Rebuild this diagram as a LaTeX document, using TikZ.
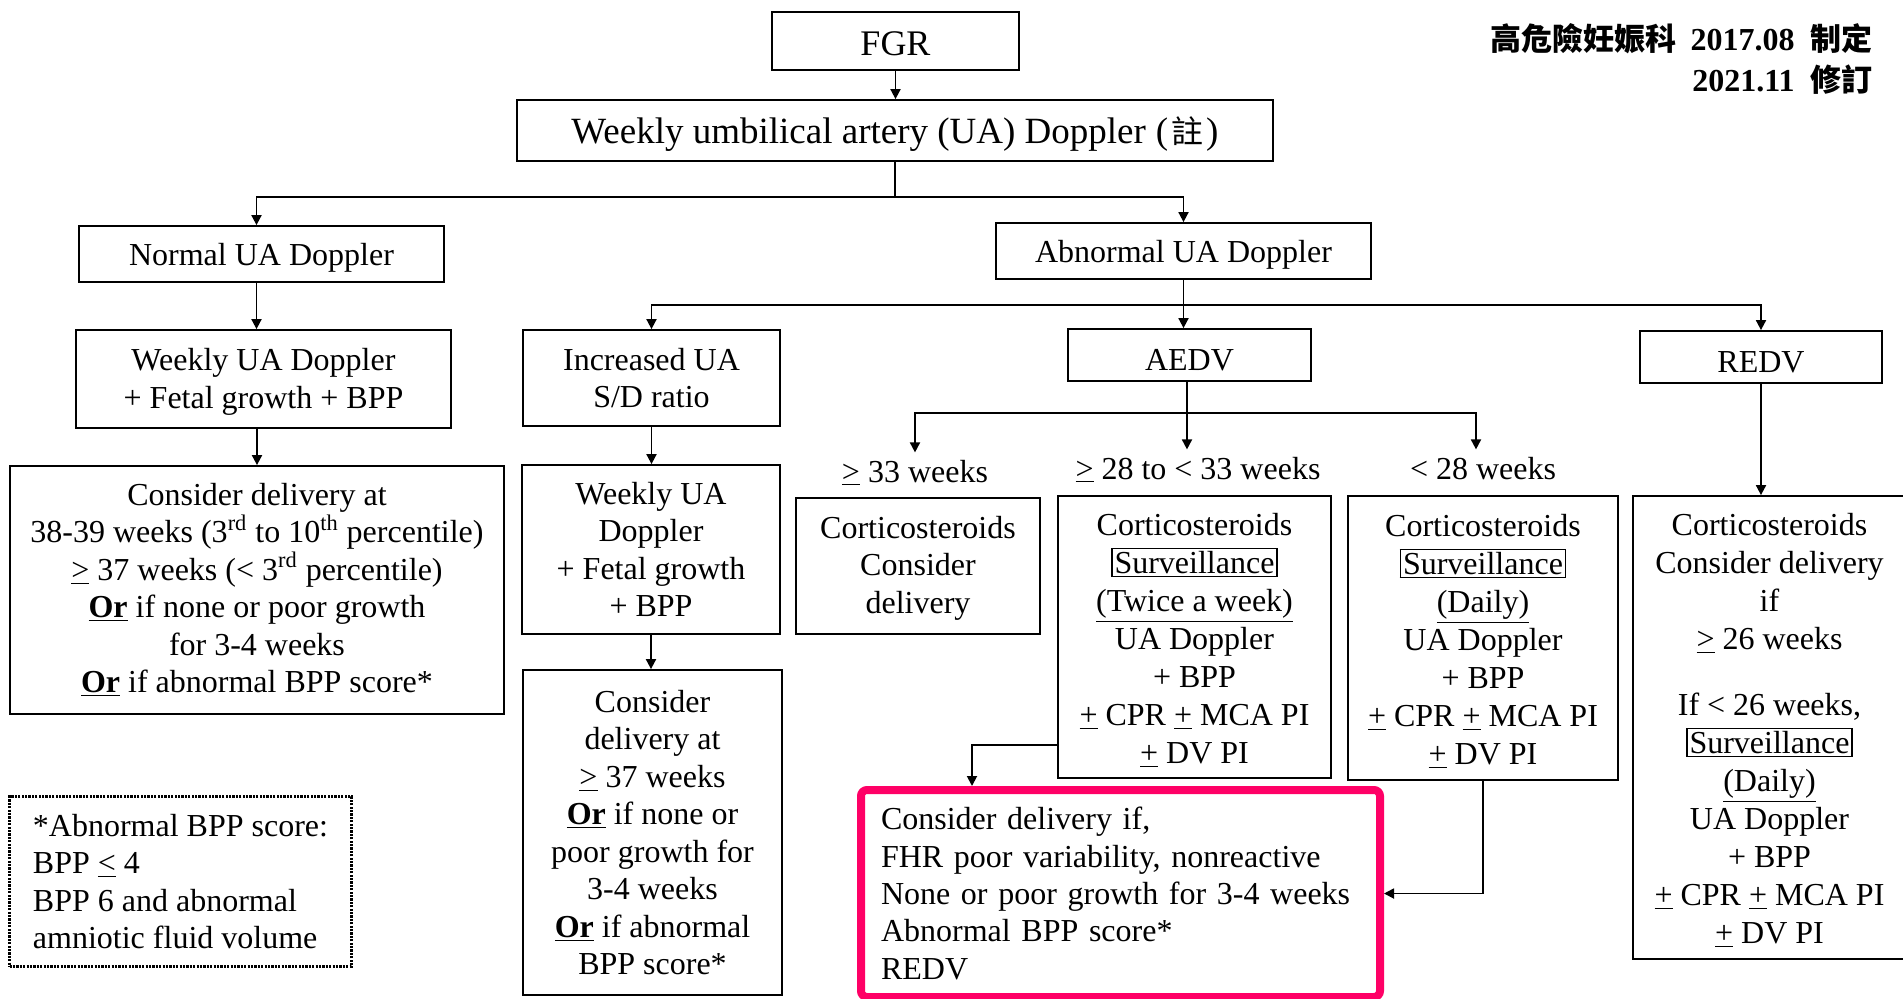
\documentclass[tikz,border=0pt]{standalone}
\usepackage{fontspec}
\setmainfont{Liberation Serif}
\newfontfamily\cjk{Noto Sans CJK TC}
\usetikzlibrary{arrows.meta,calc}
\newcommand\gea{\underline{>}}
\newcommand\lea{\underline{<}}
\newcommand\pma{\underline{+}}
\newcommand\orb{\underline{\textbf{Or}}}
\newcommand\survbox[1]{{\setlength\fboxsep{1pt}\setlength\fboxrule{0.7pt}\fbox{#1}}}
\newcommand\strutup[1]{\rule{0pt}{#1}}
\definecolor{pinkred}{RGB}{255,0,102}
\begin{document}
\begin{tikzpicture}[x=0.5pt,y=-0.5pt,
  box/.style={draw,line width=0.9pt,inner sep=0pt,align=center,font=\fontsize{16}{18.75}\selectfont},
  one/.style={text height=15pt,text depth=4pt},
  tall/.style={font=\fontsize{16}{19}\selectfont},
  lbl/.style={inner sep=3.5pt,anchor=base,font=\fontsize{16}{18.75}\selectfont},
  hdr/.style={anchor=base east,inner sep=0pt,font=\fontsize{16}{18}\selectfont},
  arr/.style={line width=0.9pt,-{Triangle[width=5pt,length=5pt]}},
  ln/.style={line width=0.9pt}]
\useasboundingbox (0,0) rectangle (1903,998);
\clip (0,0) rectangle (1903,998);
\fill[white] (0,0) rectangle (1903,998);

% header
\node[hdr] (h1) at (1873,50) {{\cjk\bfseries\fontsize{15.5}{18}\selectfont 高危險妊娠科}\hspace{7pt}\textbf{2017.08}\hspace{8pt}{\cjk\bfseries\fontsize{15.5}{18}\selectfont 制定}};
\node[hdr] (h2) at (1873,91) {\textbf{2021.11}\hspace{8pt}{\cjk\bfseries\fontsize{15.5}{18}\selectfont 修訂}};

% top
\node[box,minimum width=123.5pt,minimum height=29pt,text height=14.5pt,text depth=0.1pt,font=\fontsize{18}{20}\selectfont] (fgr) at (895.5,41) {FGR};
\node[box,minimum width=378pt,minimum height=30.5pt,text height=17pt,text depth=4.1pt,font=\fontsize{18.5}{21}\selectfont] (weekly) at (895,130.5)
  {Weekly umbilical artery (UA) Doppler\hspace{5pt}(\hspace{1.5pt}{\cjk\fontsize{16}{18}\selectfont 註}\hspace{1.5pt})};

\node[box,one,minimum width=182.5pt,minimum height=28pt] (normal) at (261.5,254) {Normal UA Doppler};
\node[box,one,minimum width=187.5pt,minimum height=28pt] (abnormal) at (1183.5,251) {Abnormal UA Doppler};

% left column
\node[box,minimum width=187.5pt,minimum height=49pt] (nweekly) at (263.5,379) {\strutup{14pt}Weekly UA Doppler\\+ Fetal growth + BPP};
\node[box,minimum width=247pt,minimum height=124pt] (ndeliv) at (257,590)
  {Consider delivery at\\
   38-39 weeks (3\textsuperscript{rd} to 10\textsuperscript{th} percentile)\\
   \gea\ 37 weeks (< 3\textsuperscript{rd} percentile)\\
   \orb\ if none or poor growth\\
   for 3-4 weeks\\
   \orb\ if abnormal BPP score*};

% dotted note
\node[draw,line width=1.8pt,dash pattern=on 1.1pt off 0.6pt,minimum width=171pt,minimum height=85pt,
  inner sep=0pt,align=left,font=\fontsize{16}{18.6}\selectfont]
  (note) at (180.5,881.5)
  {*Abnormal BPP score:\\BPP \lea\ 4\\BPP 6 and abnormal\\amniotic fluid volume};

% increased column
\node[box,minimum width=128.5pt,minimum height=48pt] (incr) at (651.5,378) {Increased UA\\S/D ratio};
\node[box,minimum width=129pt,minimum height=84.5pt] (mweekly) at (651,549.5) {Weekly UA\\Doppler\\+ Fetal growth\\+ BPP};
\node[box,minimum width=129.5pt,minimum height=162.5pt] (mdeliv) at (652.5,832.5)
  {Consider\\delivery at\\\gea\ 37 weeks\\\orb\ if none or\\poor growth for\\3-4 weeks\\\orb\ if abnormal\\BPP score*};

% AEDV / REDV
\node[box,minimum width=121.5pt,minimum height=26pt,text height=15.5pt,text depth=0pt] (aedv) at (1189.5,355) {AEDV};
\node[box,minimum width=121pt,minimum height=26pt,text height=15.5pt,text depth=0pt] (redv) at (1761,357) {REDV};

\node[lbl] (l33) at (915,482) {\gea\ 33 weeks};
\node[lbl] (l28) at (1198,479) {\gea\ 28 to < 33 weeks};
\node[lbl] (lt28) at (1483,479) {< 28 weeks};

\node[box,minimum width=122pt,minimum height=68pt] (b1) at (918,566) {\strutup{13pt}Corticosteroids\\Consider\\delivery};
\node[box,tall,minimum width=136.5pt,minimum height=141pt] (b2) at (1194.5,637)
  {\strutup{14.5pt}Corticosteroids\\\survbox{Surveillance}\\\underline{(Twice a week)}\\UA Doppler\\+ BPP\\\pma\ CPR \pma\ MCA PI\\\pma\ DV PI};
\node[box,tall,minimum width=135pt,minimum height=142pt] (b3) at (1483,638)
  {\strutup{14.5pt}Corticosteroids\\\survbox{Surveillance}\\\underline{(Daily)}\\UA Doppler\\+ BPP\\\pma\ CPR \pma\ MCA PI\\\pma\ DV PI};
\node[box,tall,minimum width=136.5pt,minimum height=231.5pt] (rbox) at (1769.5,727.5)
  {\strutup{14pt}Corticosteroids\\Consider delivery\\if\\\gea\ 26 weeks\\[13.7pt]If < 26 weeks,\\\survbox{Surveillance}\\\underline{(Daily)}\\UA Doppler\\+ BPP\\\pma\ CPR \pma\ MCA PI\\\pma\ DV PI};

% pink box
\node[draw=pinkred,line width=4pt,rounded corners=3pt,minimum width=259.5pt,minimum height=103.5pt,
  text width=239.5pt,inner xsep=10pt,inner ysep=0pt,align=left,font=\fontsize{16}{18.65}\selectfont]
  (pink) at (1120.5,893.5)
  {Consider delivery if,\\FHR poor variability, nonreactive\\None or poor growth for 3-4 weeks\\Abnormal BPP score*\\REDV};

% connectors
\draw[arr] (fgr.south) -- (fgr.south |- weekly.north);
\coordinate (j1) at (895,197);
\draw[ln] (weekly.south) -- (j1);
\draw[arr] (j1) -| ($(normal.north)+(-5,0)$);
\draw[arr] (j1) -| (abnormal.north);

\draw[arr] ($(normal.south)+(-5,0)$) -- ($(normal.south |- nweekly.north)+(-5,0)$);
\draw[arr] (ndeliv.north |- nweekly.south) -- (ndeliv.north);

\coordinate (j2) at (1183.5,305);
\draw[ln] (abnormal.south) -- (j2);
\draw[arr] (j2) -| (incr.north);
\draw[arr] (j2) -| (redv.north);
\draw[arr] (j2) -- (j2 |- aedv.north);

\draw[arr] (incr.south) -- (incr.south |- mweekly.north);
\draw[arr] (mweekly.south) -- (mweekly.south |- mdeliv.north);

\coordinate (j3) at (1187,413);
\draw[ln] (j3 |- aedv.south) -- (j3);
\draw[arr] (j3) -| (l33.north);
\draw[arr] (j3) -| ($(lt28.north)+(-7,0)$);
\draw[arr] (j3) -- (j3 |- l28.north);

\draw[arr] (redv.south) -- (redv.south |- rbox.north);

\draw[arr] ($(b2.south west)+(0,-34)$) -| ($(pink.north west)+(115,0)$);
\draw[arr] (b3.south) |- (pink.east);
\end{tikzpicture}
\end{document}
